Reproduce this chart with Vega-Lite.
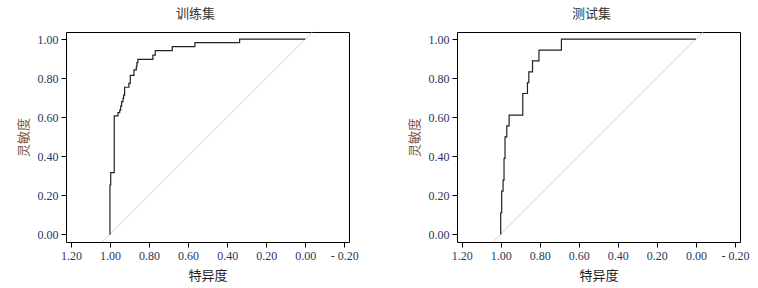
{
  "$schema": "https://vega.github.io/schema/vega-lite/v6.json",
  "background": "#ffffff",
  "padding": {"left": 16, "top": 7, "right": 5, "bottom": 5},
  "spacing": 108,
  "bounds": "flush",
  "config": {
    "view": {"stroke": "#000000", "strokeWidth": 1},
    "axis": {
      "domain": false, "grid": false, "ticks": true, "tickColor": "#000000", "tickSize": 5, "tickWidth": 1,
      "labelFont": "'Liberation Serif', 'Times New Roman', 'DejaVu Serif', serif", "labelFontSize": 12, "labelColor": "#2a3560", "labelPadding": 3,
      "titleFont": "'Liberation Serif', 'Noto Sans CJK SC', serif", "titleFontSize": 13, "titleFontWeight": "normal"
    },
    "title": {"font": "'Liberation Serif', 'Noto Sans CJK SC', serif", "fontSize": 13, "fontWeight": "normal", "color": "#333333", "offset": 9}
  },
  "datasets": {
    "roc": [
      {"set": "train", "i": 1, "spec": 1.000, "sens": 0.000},
      {"set": "train", "i": 2, "spec": 1.000, "sens": 0.253},
      {"set": "train", "i": 3, "spec": 0.996, "sens": 0.253},
      {"set": "train", "i": 4, "spec": 0.996, "sens": 0.316},
      {"set": "train", "i": 5, "spec": 0.978, "sens": 0.316},
      {"set": "train", "i": 6, "spec": 0.978, "sens": 0.607},
      {"set": "train", "i": 7, "spec": 0.959, "sens": 0.607},
      {"set": "train", "i": 8, "spec": 0.959, "sens": 0.624},
      {"set": "train", "i": 9, "spec": 0.950, "sens": 0.624},
      {"set": "train", "i": 10, "spec": 0.950, "sens": 0.637},
      {"set": "train", "i": 11, "spec": 0.945, "sens": 0.637},
      {"set": "train", "i": 12, "spec": 0.945, "sens": 0.658},
      {"set": "train", "i": 13, "spec": 0.940, "sens": 0.658},
      {"set": "train", "i": 14, "spec": 0.940, "sens": 0.680},
      {"set": "train", "i": 15, "spec": 0.933, "sens": 0.680},
      {"set": "train", "i": 16, "spec": 0.933, "sens": 0.697},
      {"set": "train", "i": 17, "spec": 0.930, "sens": 0.697},
      {"set": "train", "i": 18, "spec": 0.930, "sens": 0.714},
      {"set": "train", "i": 19, "spec": 0.925, "sens": 0.714},
      {"set": "train", "i": 20, "spec": 0.925, "sens": 0.754},
      {"set": "train", "i": 21, "spec": 0.903, "sens": 0.754},
      {"set": "train", "i": 22, "spec": 0.903, "sens": 0.774},
      {"set": "train", "i": 23, "spec": 0.896, "sens": 0.774},
      {"set": "train", "i": 24, "spec": 0.896, "sens": 0.815},
      {"set": "train", "i": 25, "spec": 0.877, "sens": 0.815},
      {"set": "train", "i": 26, "spec": 0.877, "sens": 0.843},
      {"set": "train", "i": 27, "spec": 0.865, "sens": 0.843},
      {"set": "train", "i": 28, "spec": 0.865, "sens": 0.860},
      {"set": "train", "i": 29, "spec": 0.862, "sens": 0.860},
      {"set": "train", "i": 30, "spec": 0.862, "sens": 0.880},
      {"set": "train", "i": 31, "spec": 0.857, "sens": 0.880},
      {"set": "train", "i": 32, "spec": 0.857, "sens": 0.897},
      {"set": "train", "i": 33, "spec": 0.780, "sens": 0.897},
      {"set": "train", "i": 34, "spec": 0.780, "sens": 0.919},
      {"set": "train", "i": 35, "spec": 0.768, "sens": 0.919},
      {"set": "train", "i": 36, "spec": 0.768, "sens": 0.942},
      {"set": "train", "i": 37, "spec": 0.681, "sens": 0.942},
      {"set": "train", "i": 38, "spec": 0.681, "sens": 0.962},
      {"set": "train", "i": 39, "spec": 0.565, "sens": 0.962},
      {"set": "train", "i": 40, "spec": 0.565, "sens": 0.983},
      {"set": "train", "i": 41, "spec": 0.336, "sens": 0.983},
      {"set": "train", "i": 42, "spec": 0.336, "sens": 1.000},
      {"set": "train", "i": 43, "spec": 0.000, "sens": 1.000},
      {"set": "test", "i": 1, "spec": 1.000, "sens": 0.000},
      {"set": "test", "i": 2, "spec": 1.000, "sens": 0.111},
      {"set": "test", "i": 3, "spec": 0.995, "sens": 0.111},
      {"set": "test", "i": 4, "spec": 0.995, "sens": 0.222},
      {"set": "test", "i": 5, "spec": 0.988, "sens": 0.222},
      {"set": "test", "i": 6, "spec": 0.988, "sens": 0.278},
      {"set": "test", "i": 7, "spec": 0.983, "sens": 0.278},
      {"set": "test", "i": 8, "spec": 0.983, "sens": 0.389},
      {"set": "test", "i": 9, "spec": 0.978, "sens": 0.389},
      {"set": "test", "i": 10, "spec": 0.978, "sens": 0.500},
      {"set": "test", "i": 11, "spec": 0.969, "sens": 0.500},
      {"set": "test", "i": 12, "spec": 0.969, "sens": 0.556},
      {"set": "test", "i": 13, "spec": 0.957, "sens": 0.556},
      {"set": "test", "i": 14, "spec": 0.957, "sens": 0.611},
      {"set": "test", "i": 15, "spec": 0.887, "sens": 0.611},
      {"set": "test", "i": 16, "spec": 0.887, "sens": 0.722},
      {"set": "test", "i": 17, "spec": 0.863, "sens": 0.722},
      {"set": "test", "i": 18, "spec": 0.863, "sens": 0.778},
      {"set": "test", "i": 19, "spec": 0.856, "sens": 0.778},
      {"set": "test", "i": 20, "spec": 0.856, "sens": 0.833},
      {"set": "test", "i": 21, "spec": 0.837, "sens": 0.833},
      {"set": "test", "i": 22, "spec": 0.837, "sens": 0.889},
      {"set": "test", "i": 23, "spec": 0.804, "sens": 0.889},
      {"set": "test", "i": 24, "spec": 0.804, "sens": 0.944},
      {"set": "test", "i": 25, "spec": 0.689, "sens": 0.944},
      {"set": "test", "i": 26, "spec": 0.689, "sens": 1.000},
      {"set": "test", "i": 27, "spec": 0.000, "sens": 1.000}
    ],
    "diag": [
      {"spec": 1.039, "sens": -0.039},
      {"spec": -0.037, "sens": 1.037}
    ]
  },
  "hconcat": [
    {
      "width": 283, "height": 210,
      "title": {"text": "训练集", "dx": -12},
      "encoding": {
        "x": {"field": "spec", "type": "quantitative", "title": "特异度",
          "scale": {"domain": [-0.224, 1.225], "reverse": true, "nice": false, "zero": false},
          "axis": {"values": [1.2, 1.0, 0.8, 0.6, 0.4, 0.2, 0.0, -0.2], "labelExpr": "datum.value < 0 ? '- ' + format(-datum.value, '.2f') : format(datum.value, '.2f')", "titleColor": "#222222", "titlePadding": 8}},
        "y": {"field": "sens", "type": "quantitative", "title": "灵敏度",
          "scale": {"domain": [-0.039, 1.037], "nice": false, "zero": false},
          "axis": {"values": [0, 0.2, 0.4, 0.6, 0.8, 1.0], "format": ".2f", "titleColor": "#7d5a45", "titlePadding": 7}}
      },
      "layer": [
        {"data": {"name": "diag"}, "mark": {"type": "line", "color": "#c4c4c4", "strokeWidth": 0.8}},
        {"data": {"name": "roc"}, "transform": [{"filter": "datum.set === 'train'"}],
          "mark": {"type": "line", "color": "#222222", "strokeWidth": 1.2},
          "encoding": {"order": {"field": "i", "type": "quantitative"}}}
      ]
    },
    {
      "width": 283, "height": 210,
      "title": {"text": "测试集", "dx": -7},
      "encoding": {
        "x": {"field": "spec", "type": "quantitative", "title": "特异度",
          "scale": {"domain": [-0.226, 1.224], "reverse": true, "nice": false, "zero": false},
          "axis": {"values": [1.2, 1.0, 0.8, 0.6, 0.4, 0.2, 0.0, -0.2], "labelExpr": "datum.value < 0 ? '- ' + format(-datum.value, '.2f') : format(datum.value, '.2f')", "titleColor": "#222222", "titlePadding": 8}},
        "y": {"field": "sens", "type": "quantitative", "title": "灵敏度",
          "scale": {"domain": [-0.039, 1.037], "nice": false, "zero": false},
          "axis": {"values": [0, 0.2, 0.4, 0.6, 0.8, 1.0], "format": ".2f", "titleColor": "#7d5a45", "titlePadding": 7}}
      },
      "layer": [
        {"data": {"name": "diag"}, "mark": {"type": "line", "color": "#c4c4c4", "strokeWidth": 0.8}},
        {"data": {"name": "roc"}, "transform": [{"filter": "datum.set === 'test'"}],
          "mark": {"type": "line", "color": "#222222", "strokeWidth": 1.2},
          "encoding": {"order": {"field": "i", "type": "quantitative"}}}
      ]
    }
  ]
}
